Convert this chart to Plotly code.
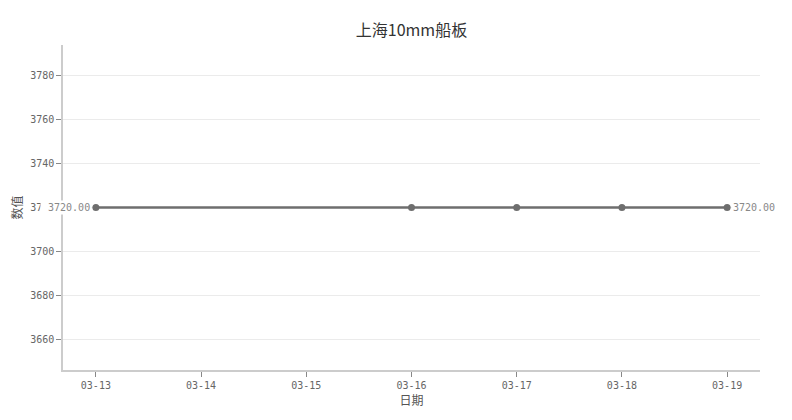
import plotly.graph_objects as go

dates = ["2024-03-13", "2024-03-16", "2024-03-17", "2024-03-18", "2024-03-19"]
values = [3720, 3720, 3720, 3720, 3720]
tick_dates = ["2024-03-13", "2024-03-14", "2024-03-15", "2024-03-16",
              "2024-03-17", "2024-03-18", "2024-03-19"]
tick_labels = ["03-13", "03-14", "03-15", "03-16", "03-17", "03-18", "03-19"]

font_name = "DejaVu Sans Mono, Noto Sans CJK SC"
grey = "#6e6e6e"

fig = go.Figure()
fig.add_trace(go.Scatter(
    x=dates,
    y=values,
    mode="lines+markers",
    line=dict(color=grey, width=2.5),
    marker=dict(color=grey, size=7),
    showlegend=False,
))

# value labels on first and last point, white box hides part of the tick label under it
fig.add_annotation(x=dates[0], y=values[0], text=f" {values[0]:.2f}",
                   xanchor="right", xshift=-4, showarrow=False,
                   bgcolor="white", font=dict(size=10, color="#888888"))
fig.add_annotation(x=dates[-1], y=values[-1], text=f"{values[-1]:.2f}",
                   xanchor="left", xshift=4, showarrow=False,
                   bgcolor="white", font=dict(size=10, color="#888888"))

# page body adds 8px, so the figure is a bit smaller than the window
fig.update_layout(
    width=784,
    height=412,
    margin=dict(l=55, r=32, t=37, b=50),
    paper_bgcolor="white",
    plot_bgcolor="white",
    font=dict(family=font_name, color="#666666", size=10),
    title=dict(text="上海10mm船板", x=0.5, xref="paper", xanchor="center", y=0.96,
               font=dict(family="Noto Sans CJK SC", size=16, color="#333333")),
    xaxis=dict(
        title=dict(text="日期", font=dict(family="Noto Sans CJK SC", size=12, color="#555555"),
                   standoff=6),
        range=["2024-03-12 16:30", "2024-03-19 07:30"],
        tickvals=tick_dates,
        ticktext=tick_labels,
        showgrid=False,
        showline=True,
        linecolor="#cccccc",
        linewidth=1.5,
        ticks="outside",
        tickcolor="#888888",
        ticklen=5,
        zeroline=False,
        automargin=False,
    ),
    yaxis=dict(
        title=dict(text="数值", font=dict(family="Noto Sans CJK SC", size=12, color="#555555"),
                   standoff=8),
        range=[3646, 3794],
        tickvals=[3660, 3680, 3700, 3720, 3740, 3760, 3780],
        showgrid=True,
        gridcolor="#ebebeb",
        showline=True,
        linecolor="#cccccc",
        linewidth=1.5,
        ticks="outside",
        tickcolor="#888888",
        ticklen=5,
        zeroline=False,
        automargin=False,
    ),
)

fig.write_html("out.html")
